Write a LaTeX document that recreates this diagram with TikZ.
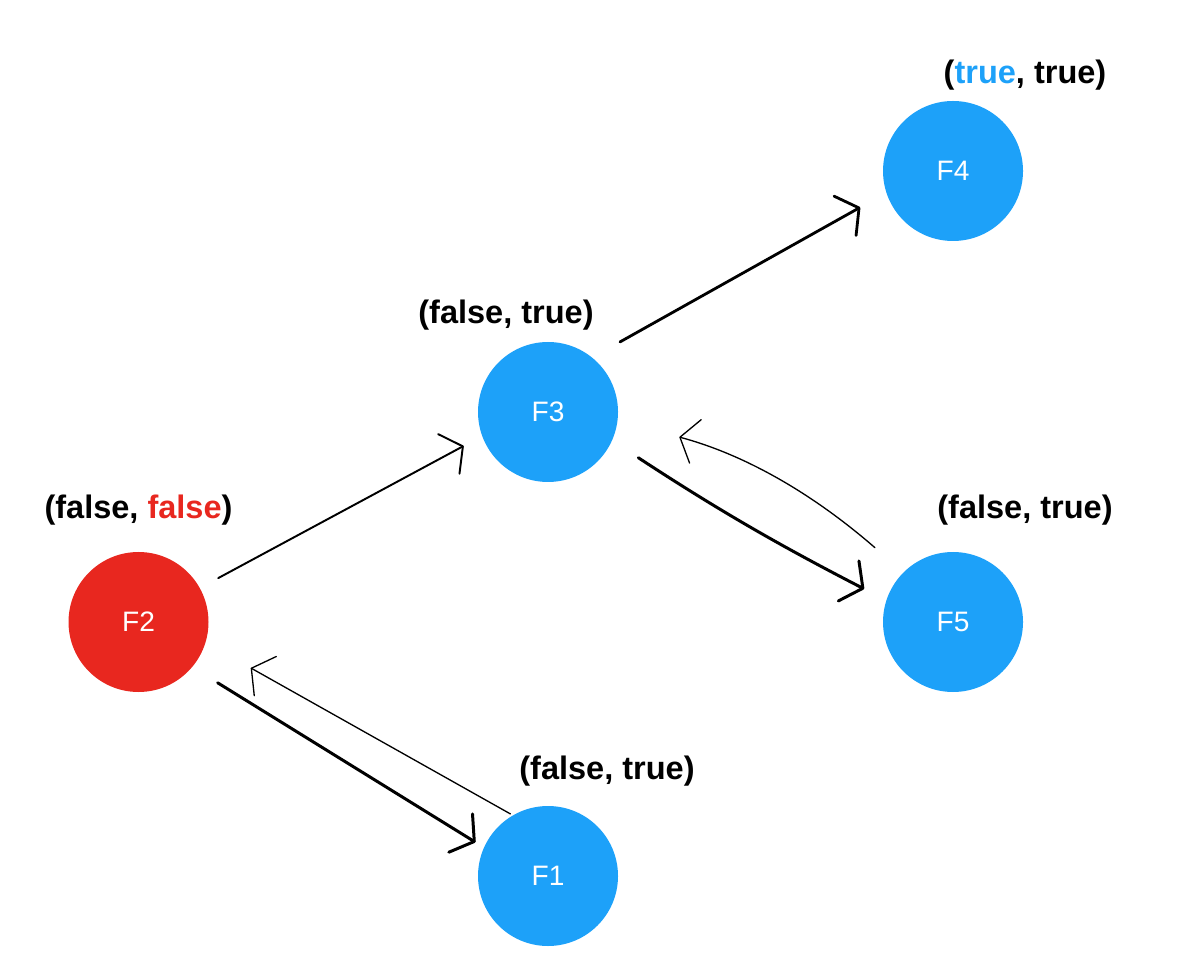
\documentclass[tikz,border=0pt]{standalone}
\usepackage{fontspec}
\setmainfont{Liberation Sans}
\usepackage{tikz}
\usetikzlibrary{arrows.meta, positioning}
\definecolor{flag_blue}{HTML}{1DA1F9}
\definecolor{flag_red}{HTML}{E8271F}
\tikzset{
  flag/.style={circle,fill=flag_blue,text=white,minimum size=2.8cm,inner sep=0,outer sep=0,font=\fontsize{16}{19}\selectfont},
  flag_bad/.style={flag,fill=flag_red},
  state/.style={inner sep=0,outer sep=0,font=\fontsize{18.5}{22}\selectfont\bfseries},
  flow/.style={black,line width=1.7pt,line cap=round,-{Straight Barb[length=0.32cm,width=0.9cm,round]}},
  flowthin/.style={flow,line width=0.75pt},
}

\begin{document}
\begin{tikzpicture}
	    \useasboundingbox (0,0) rectangle (24,19.28);
	    \node[flag_bad] (F2) at (2.77,6.84) {F2};
	    \node[flag] (F3) at (10.96,11.04) {F3};
	    \node[flag] (F4) at (19.06,15.86) {F4};
	    \node[flag] (F5) at (19.06,6.84) {F5};
	    \node[flag] (F1) at (10.96,1.76) {F1};
	    \node[state,above=0.22cm of F4,xshift=1.44cm] (S4) {(\textcolor{flag_blue}{true}, true)};
	    \node[state,above=0.24cm of F3,xshift=-0.84cm] (S3) {(false, true)};
	    \node[state,above=0.54cm of F2] (S2) {(false, \textcolor{flag_red}{false})};
	    \node[state,above=0.54cm of F5,xshift=1.44cm] (S5) {(false, true)};
	    \node[state,above=0.40cm of F1,xshift=1.18cm] (S1) {(false, true)};
	    \draw[flow,line width=1.1pt,shorten <=0.42cm,shorten >=0.42cm] (F2.29) -- (F3.-160);
	    \draw[flow,line width=1.6pt,shorten <=0.64cm,shorten >=0.6cm] (F3.51) -- (F4.-162);
	    \draw[flow,shorten <=0.63cm,shorten >=0.5cm] (F3.-24) to[bend right=3] (F5.162);
	    \draw[flowthin,shorten <=0.76cm,shorten >=1.28cm] (F5.135) to[bend right=13] (F3.-7);
	    \draw[flow,shorten <=0.6cm,shorten >=0.2cm] (F2.-40) -- (F1.156);
	    \draw[flowthin,shorten <=0.06cm,shorten >=1.04cm] (F1.120) -- (F2.-17);
	\end{tikzpicture}
\end{document}
